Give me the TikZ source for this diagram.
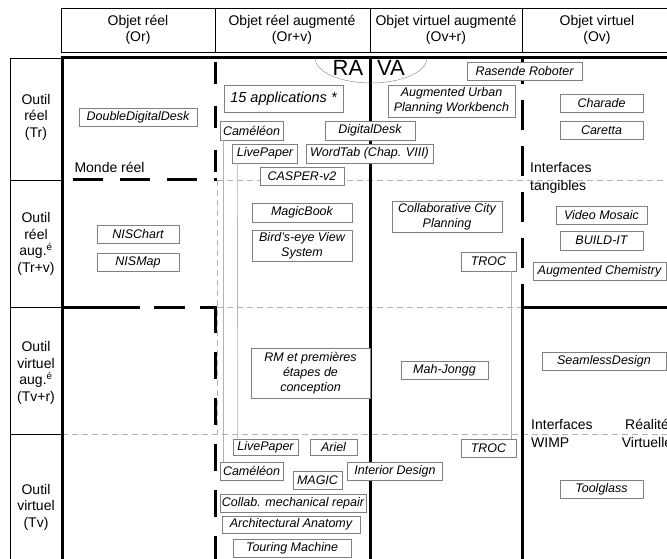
\documentclass[tikz,border=0pt]{standalone}
\usepackage{fontspec}
\setmainfont{Liberation Sans}
\usetikzlibrary{positioning}
\tikzset{
	appli/.style={draw=gray, fill=white, inner sep=1pt, minimum height=18pt, align=center,
		font=\fontsize{12.5}{15}\selectfont\itshape},
	titre/.style={align=center, font=\fontsize{14}{16.5}\selectfont},
	zone/.style={anchor=base west, inner sep=0pt, align=left, font=\fontsize{14}{18}\selectfont},
	bord/.style={line width=3pt},
	tiret/.style={line width=3pt, dash pattern=on 30pt off 16pt},
	grille/.style={gray!60, line width=0.7pt, dash pattern=on 6pt off 4pt},
	lien/.style={gray!60, line width=0.7pt}
}

\begin{document}
\begin{tikzpicture}[x=1pt, y=-1pt]
			\useasboundingbox (0,0) rectangle (667,559);
			\draw (61,8) rectangle (690,52);
			\foreach \x in {215,370,522} \draw (\x,8) -- (\x,52);
			\node[titre] (or) at (138,30) {Objet réel\\(Or)};
			\node[titre] (orv) at (292,30) {Objet réel augmenté\\(Or+v)};
			\node[titre] (ovr) at (446,30) {Objet virtuel augmenté\\(Ov+r)};
			\node[titre] (ov) at (597,30) {Objet virtuel\\(Ov)};
			\draw (10,58) rectangle (61,575);
			\foreach \y in {180,307,434} \draw (10,\y) -- (61,\y);
			\node[titre] (tr) at (36,117) {Outil\\réel\\(Tr)};
			\node[titre] (trv) at (36,244) {Outil\\réel\\aug.\textsuperscript{é}\\(Tr+v)};
			\node[titre] (tvr) at (36,373) {Outil\\virtuel\\aug.\textsuperscript{é}\\(Tv+r)};
			\node[titre] (tv) at (36,507) {Outil\\virtuel\\(Tv)};
			\draw[grille] (217,180) -- (667,180);
			\draw[grille] (217,307) -- (522,307);
			\draw[grille] (62,434) -- (667,434);
			\draw[grille] (217,180) -- (217,434);
			\draw[bord] (60.5,58) -- (667,58);
			\draw[bord] (62,56.5) -- (62,575);
			\draw[bord] (370,58) -- (370,575);
			\draw[bord] (522,575) -- (522,307) -- (667,307);
			\draw[tiret, dash pattern=on 30pt off 17pt, dash phase=36pt] (62,180) -- (216.5,180);
			\draw[tiret, dash pattern=on 22pt off 22pt] (215,62) -- (215,181.5);
			\draw[tiret, dash pattern=on 78pt off 14pt on 31pt off 15pt on 40pt] (62,307) -- (216.5,307);
			\draw[tiret, dash pattern=on 27pt off 19pt] (215,305.5) -- (215,575);
			\draw[tiret, dash phase=4pt] (522,58) -- (522,307);
			\draw[gray] (315,58) arc[start angle=180, end angle=0, x radius=56, y radius=25];
			\node[font=\fontsize{22}{22}\selectfont] (ra) at (348,68) {RA};
			\node[font=\fontsize{22}{22}\selectfont] (va) at (391,68) {VA};
			\node[anchor=base west, font=\fontsize{14}{16}\selectfont] (monde) at (71,173) {Monde réel};
			\node[zone] (tang) at (530,190) {Interfaces\\tangibles};
			\node[zone] (wimp) at (531,447) {Interfaces\\WIMP};
			\node[zone, anchor=base, align=center] (rv) at (647,447) {Réalité\\Virtuelle};
			% Tr
			\node[appli, minimum width=118pt] (ddd) at (138,117) {DoubleDigitalDesk};
			\node[appli, minimum width=119pt, minimum height=27pt, font=\fontsize{14.5}{16}\selectfont\itshape] (apps) at (283.5,98.5) {15 applications *};
			\node[appli, minimum width=63pt, minimum height=19pt] (camA) at (251.5,130.5) {Caméléon};
			\node[appli, minimum width=90pt, minimum height=19pt] (ddesk) at (370,130.5) {DigitalDesk};
			\node[appli, minimum width=65pt, minimum height=19pt] (lpA) at (265,153.5) {LivePaper};
			\node[appli, minimum width=127pt, minimum height=19pt] (wordtab) at (369.5,153.5) {WordTab (Chap. VIII)};
			\node[appli, minimum width=84pt] (casper) at (302,176) {CASPER-v2};
			\node[appli, minimum width=115pt] (rasende) at (524.5,71.5) {Rasende Roboter};
			\node[appli, minimum width=127pt, minimum height=32pt] (aupw) at (451.5,101) {Augmented Urban\\Planning Workbench};
			\node[appli, minimum width=83pt] (charade) at (601.5,103) {Charade};
			\node[appli, minimum width=83pt] (caretta) at (601.5,130) {Caretta};
			% Tr+v
			\node[appli, minimum width=100pt, minimum height=19pt] (magicbook) at (302,212.5) {MagicBook};
			\node[appli, minimum width=100pt, minimum height=31pt] (birdseye) at (302,245.5) {Bird's-eye View\\System};
			\node[appli, minimum width=82pt] (nischart) at (138,234.5) {NISChart};
			\node[appli, minimum width=82pt] (nismap) at (138,262) {NISMap};
			\node[appli, minimum width=110pt, minimum height=31pt] (ccp) at (447,216.5) {Collaborative City\\Planning};
			\node[appli, minimum width=55pt, minimum height=19pt] (trocA) at (488.5,261.5) {TROC};
			\node[appli, minimum width=91pt] (videomosaic) at (601.5,215) {Video Mosaic};
			\node[appli, minimum width=83pt, minimum height=19pt] (buildit) at (601.5,240.5) {BUILD-IT};
			\node[appli, minimum width=133pt] (augchem) at (599.5,271) {Augmented Chemistry};
			% Tv+r
			\node[appli, minimum width=119pt, minimum height=50pt] (rm) at (310.5,373) {RM et premières\\étapes de\\conception};
			\node[appli, minimum width=87pt] (mahjongg) at (444.5,370.5) {Mah-Jongg};
			\node[appli, minimum width=124pt] (seamless) at (604,361) {SeamlessDesign};
			% Tv
			\node[appli, minimum width=65pt, minimum height=16pt] (lpB) at (265.5,447.5) {LivePaper};
			\node[appli, minimum width=47pt, minimum height=16pt] (ariel) at (333.5,447.5) {Ariel};
			\node[appli, minimum width=63pt] (camB) at (251.5,471) {Caméléon};
			\node[appli, minimum width=49pt] (magic) at (317.5,480) {MAGIC};
			\node[appli, minimum width=95pt] (interior) at (395,471) {Interior Design};
			\node[appli, minimum width=146pt] (collab) at (293,503) {Collab. mechanical repair};
			\node[appli, minimum width=138pt, minimum height=17pt] (archi) at (291,524.5) {Architectural Anatomy};
			\node[appli, minimum width=118pt] (touring) at (292,548) {Touring Machine};
			\node[appli, minimum width=55pt] (trocB) at (488.5,448) {TROC};
			\node[appli, minimum width=83pt] (toolglass) at (601.5,489) {Toolglass};
			\draw[lien] ([xshift=4pt]camA.south west) -- ([xshift=4pt]camB.north west);
			\draw[lien] ([xshift=5pt]lpA.south west) -- ([xshift=5pt]lpB.north west);
			\draw[lien] ([xshift=-5pt]trocA.south east) -- ([xshift=-5pt]trocB.north east);
		\end{tikzpicture}
\end{document}
